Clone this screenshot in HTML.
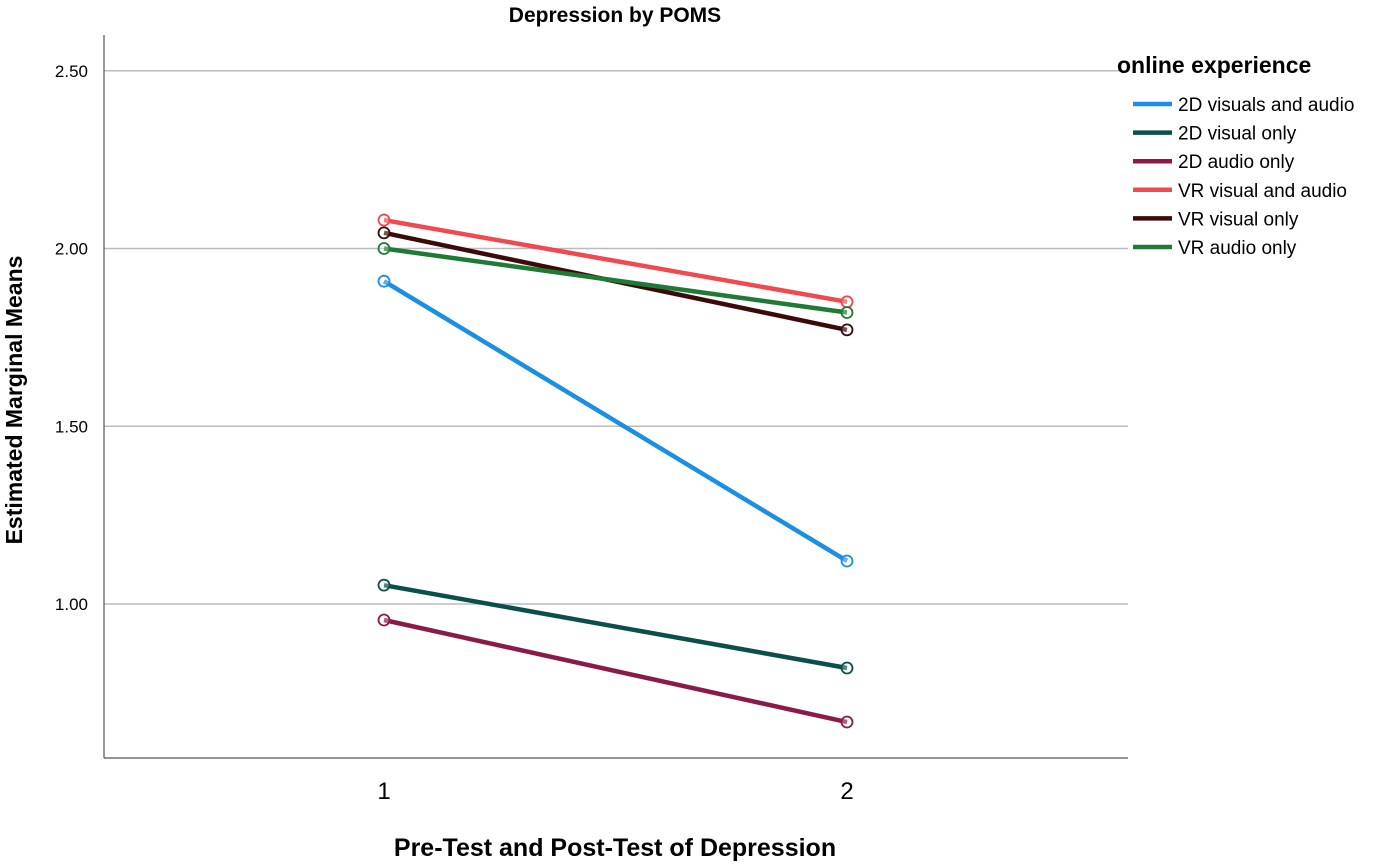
<!DOCTYPE html>
<html><head><meta charset="utf-8"><style>
body{margin:0;background:#fff;}
svg{display:block;font-family:"Liberation Sans",Arial,sans-serif;}
</style></head><body>
<svg id="chart" width="1400" height="868" viewBox="0 0 1400 868">
<text x="615" y="22" text-anchor="middle" font-size="21" font-weight="bold">Depression by POMS</text>
<g id="grid"></g>
<g id="series"></g>
<line x1="104" y1="35" x2="104" y2="758" stroke="#555" stroke-width="1.2"/>
<line x1="104" y1="758" x2="1128" y2="758" stroke="#555" stroke-width="1.2"/>
<text x="615" y="856" text-anchor="middle" font-size="25" font-weight="bold">Pre-Test and Post-Test of Depression</text>
<text transform="translate(22,400) rotate(-90)" text-anchor="middle" font-size="23" font-weight="bold">Estimated Marginal Means</text>
<text x="1117" y="73" font-size="23" font-weight="bold">online experience</text>
<g id="legend"></g>
</svg>
<script>
const categories=["1","2"];
const yTicks=[1.0,1.5,2.0,2.5];
const yTickLabels=["1.00","1.50","2.00","2.50"];
const seriesNames=["2D visuals and audio","2D visual only","2D audio only","VR visual and audio","VR visual only","VR audio only"];
const colors=["#1a8fe3","#0b4f4a","#8b1a4a","#f04a50","#3c0a0a","#1e7a34"];
const s2DVA=[1.908,1.121];
const s2DV=[1.053,0.82];
const s2DA=[0.955,0.668];
const sVRVA=[2.08,1.85];
const sVRV=[2.044,1.771];
const sVRA=[2.0,1.82];
const allSeries=[s2DVA,s2DV,s2DA,sVRVA,sVRV,sVRA];
const NS="http://www.w3.org/2000/svg";
function yScale(v){return 604-(v-1)*355.5;}
function xScale(i){return 384+i*463;}
function mk(t,a,p){const e=document.createElementNS(NS,t);for(const k in a)e.setAttribute(k,a[k]);p.appendChild(e);return e;}
const grid=document.getElementById('grid');
yTicks.forEach((v,i)=>{
 const l=mk('line',{x1:104,x2:1128,y1:yScale(v),y2:yScale(v),stroke:'#bbb','stroke-width':1.5},grid);
 
 
 const t=mk('text',{x:88,y:yScale(v)+6,'text-anchor':'end','font-size':17},grid);
 t.textContent=yTickLabels[i];
 
 
});
categories.forEach((c,i)=>{
 const t=mk('text',{x:xScale(i),y:799,'text-anchor':'middle','font-size':24},grid);
 t.textContent=c;
 
 
});
const sg=document.getElementById('series');
allSeries.forEach((s,k)=>{
 const pts=s.map((v,i)=>xScale(i)+','+yScale(v)).join(' ');
 const pl=mk('polyline',{points:pts,fill:'none',stroke:colors[k],'stroke-width':4.5},sg);
 
 
 s.forEach((v,i)=>{
  const c=mk('circle',{cx:xScale(i),cy:yScale(v),r:5.5,fill:'#fff','fill-opacity':0.3,stroke:colors[k],'stroke-width':1.8},sg);
  
  
 });
});
const lg=document.getElementById('legend');
seriesNames.forEach((n,k)=>{
 const y=104+k*28.6;
 const l=mk('line',{x1:1133,x2:1172,y1:y,y2:y,stroke:colors[k],'stroke-width':4.5},lg);
 
 
 const t=mk('text',{x:1178,y:y+7,'font-size':19},lg);
 t.textContent=n;
 
 
});
</script>
</body></html>
